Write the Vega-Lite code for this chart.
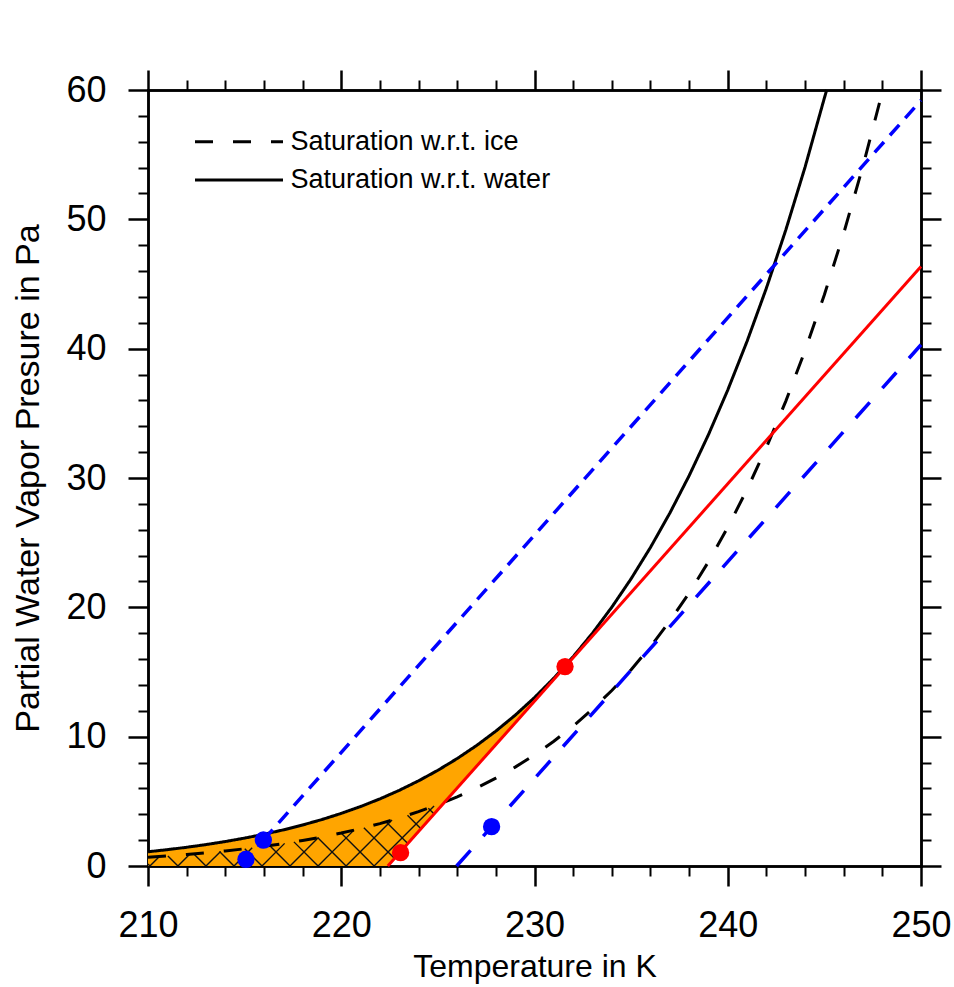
{
  "$schema": "https://vega.github.io/schema/vega-lite/v6.json",
  "width": 773,
  "height": 776,
  "autosize": {"type": "none"},
  "padding": {"left": 148, "top": 90, "right": 33, "bottom": 121},
  "background": "white",
  "config": {
    "view": {"stroke": null},
    "font": "Liberation Sans",
    "axis": {
      "grid": false,
      "domainColor": "black",
      "domainWidth": 2.5,
      "domainCap": "square",
      "tickColor": "black",
      "labelColor": "black",
      "titleColor": "black",
      "labelFont": "Liberation Sans",
      "titleFont": "Liberation Sans",
      "titleFontWeight": "normal",
      "labelFlush": false,
      "labelOverlap": false
    }
  },
  "resolve": {"axis": {"x": "independent", "y": "independent"}},
  "datasets": {
    "fill": [
      {"T": 210, "top": 1.100, "bottom": 0},
      {"T": 211, "top": 1.263, "bottom": 0},
      {"T": 212, "top": 1.447, "bottom": 0},
      {"T": 213, "top": 1.655, "bottom": 0},
      {"T": 214, "top": 1.891, "bottom": 0},
      {"T": 215, "top": 2.157, "bottom": 0},
      {"T": 216, "top": 2.456, "bottom": 0},
      {"T": 217, "top": 2.792, "bottom": 0},
      {"T": 218, "top": 3.170, "bottom": 0},
      {"T": 219, "top": 3.593, "bottom": 0},
      {"T": 220, "top": 4.067, "bottom": 0},
      {"T": 221, "top": 4.598, "bottom": 0},
      {"T": 222, "top": 5.189, "bottom": 0},
      {"T": 222.41, "top": 5.460, "bottom": 0},
      {"T": 223, "top": 5.849, "bottom": 0.991},
      {"T": 224, "top": 6.584, "bottom": 2.671},
      {"T": 225, "top": 7.401, "bottom": 4.351},
      {"T": 226, "top": 8.308, "bottom": 6.031},
      {"T": 227, "top": 9.314, "bottom": 7.711},
      {"T": 228, "top": 10.428, "bottom": 9.391},
      {"T": 229, "top": 11.660, "bottom": 11.071},
      {"T": 230, "top": 13.023, "bottom": 12.751},
      {"T": 231, "top": 14.526, "bottom": 14.431},
      {"T": 231.58, "top": 15.45, "bottom": 15.406}
    ],
    "hatch": [
      {"T1": 210.10, "e1": 0, "T2": 210.591, "e2": 0.733},
      {"T1": 211.55, "e1": 0, "T2": 212.158, "e2": 0.909},
      {"T1": 213.00, "e1": 0, "T2": 213.756, "e2": 1.129},
      {"T1": 214.45, "e1": 0, "T2": 215.390, "e2": 1.404},
      {"T1": 215.90, "e1": 0, "T2": 217.070, "e2": 1.749},
      {"T1": 217.35, "e1": 0, "T2": 218.819, "e2": 2.195},
      {"T1": 218.80, "e1": 0, "T2": 220.657, "e2": 2.774},
      {"T1": 220.25, "e1": 0, "T2": 222.626, "e2": 3.549},
      {"T1": 221.70, "e1": 0, "T2": 224.802, "e2": 4.635},
      {"T1": 210.10, "e1": 0, "T2": 210.000, "e2": 0.149},
      {"T1": 211.55, "e1": 0, "T2": 211.030, "e2": 0.777},
      {"T1": 213.00, "e1": 0, "T2": 212.373, "e2": 0.937},
      {"T1": 214.45, "e1": 0, "T2": 213.700, "e2": 1.121},
      {"T1": 215.90, "e1": 0, "T2": 215.008, "e2": 1.333},
      {"T1": 217.35, "e1": 0, "T2": 216.292, "e2": 1.581},
      {"T1": 218.80, "e1": 0, "T2": 217.552, "e2": 1.865},
      {"T1": 220.25, "e1": 0, "T2": 218.787, "e2": 2.186},
      {"T1": 221.70, "e1": 0, "T2": 219.995, "e2": 2.547},
      {"T1": 222.759, "e1": 0.585, "T2": 221.170, "e2": 2.958},
      {"T1": 223.441, "e1": 1.732, "T2": 222.315, "e2": 3.415},
      {"T1": 224.124, "e1": 2.878, "T2": 223.427, "e2": 3.919},
      {"T1": 224.806, "e1": 4.025, "T2": 224.506, "e2": 4.474}
    ],
    "sat": [
      {"curve": "Saturation w.r.t. water", "T": 210, "e": 1.100},
      {"curve": "Saturation w.r.t. water", "T": 211, "e": 1.263},
      {"curve": "Saturation w.r.t. water", "T": 212, "e": 1.447},
      {"curve": "Saturation w.r.t. water", "T": 213, "e": 1.655},
      {"curve": "Saturation w.r.t. water", "T": 214, "e": 1.891},
      {"curve": "Saturation w.r.t. water", "T": 215, "e": 2.157},
      {"curve": "Saturation w.r.t. water", "T": 216, "e": 2.456},
      {"curve": "Saturation w.r.t. water", "T": 217, "e": 2.792},
      {"curve": "Saturation w.r.t. water", "T": 218, "e": 3.170},
      {"curve": "Saturation w.r.t. water", "T": 219, "e": 3.593},
      {"curve": "Saturation w.r.t. water", "T": 220, "e": 4.067},
      {"curve": "Saturation w.r.t. water", "T": 221, "e": 4.598},
      {"curve": "Saturation w.r.t. water", "T": 222, "e": 5.189},
      {"curve": "Saturation w.r.t. water", "T": 223, "e": 5.849},
      {"curve": "Saturation w.r.t. water", "T": 224, "e": 6.584},
      {"curve": "Saturation w.r.t. water", "T": 225, "e": 7.401},
      {"curve": "Saturation w.r.t. water", "T": 226, "e": 8.308},
      {"curve": "Saturation w.r.t. water", "T": 227, "e": 9.314},
      {"curve": "Saturation w.r.t. water", "T": 228, "e": 10.428},
      {"curve": "Saturation w.r.t. water", "T": 229, "e": 11.660},
      {"curve": "Saturation w.r.t. water", "T": 230, "e": 13.023},
      {"curve": "Saturation w.r.t. water", "T": 231, "e": 14.526},
      {"curve": "Saturation w.r.t. water", "T": 232, "e": 16.183},
      {"curve": "Saturation w.r.t. water", "T": 233, "e": 18.006},
      {"curve": "Saturation w.r.t. water", "T": 234, "e": 20.012},
      {"curve": "Saturation w.r.t. water", "T": 235, "e": 22.213},
      {"curve": "Saturation w.r.t. water", "T": 236, "e": 24.629},
      {"curve": "Saturation w.r.t. water", "T": 237, "e": 27.278},
      {"curve": "Saturation w.r.t. water", "T": 238, "e": 30.171},
      {"curve": "Saturation w.r.t. water", "T": 239, "e": 33.344},
      {"curve": "Saturation w.r.t. water", "T": 240, "e": 36.800},
      {"curve": "Saturation w.r.t. water", "T": 241, "e": 40.572},
      {"curve": "Saturation w.r.t. water", "T": 242, "e": 44.683},
      {"curve": "Saturation w.r.t. water", "T": 243, "e": 49.160},
      {"curve": "Saturation w.r.t. water", "T": 244, "e": 54.034},
      {"curve": "Saturation w.r.t. water", "T": 245, "e": 59.379},
      {"curve": "Saturation w.r.t. water", "T": 245.12, "e": 60.0},
      {"curve": "Saturation w.r.t. ice", "T": 210, "e": 0.674},
      {"curve": "Saturation w.r.t. ice", "T": 211, "e": 0.774},
      {"curve": "Saturation w.r.t. ice", "T": 212, "e": 0.888},
      {"curve": "Saturation w.r.t. ice", "T": 213, "e": 1.018},
      {"curve": "Saturation w.r.t. ice", "T": 214, "e": 1.165},
      {"curve": "Saturation w.r.t. ice", "T": 215, "e": 1.331},
      {"curve": "Saturation w.r.t. ice", "T": 216, "e": 1.519},
      {"curve": "Saturation w.r.t. ice", "T": 217, "e": 1.732},
      {"curve": "Saturation w.r.t. ice", "T": 218, "e": 1.972},
      {"curve": "Saturation w.r.t. ice", "T": 219, "e": 2.244},
      {"curve": "Saturation w.r.t. ice", "T": 220, "e": 2.549},
      {"curve": "Saturation w.r.t. ice", "T": 221, "e": 2.892},
      {"curve": "Saturation w.r.t. ice", "T": 222, "e": 3.278},
      {"curve": "Saturation w.r.t. ice", "T": 223, "e": 3.712},
      {"curve": "Saturation w.r.t. ice", "T": 224, "e": 4.198},
      {"curve": "Saturation w.r.t. ice", "T": 225, "e": 4.743},
      {"curve": "Saturation w.r.t. ice", "T": 226, "e": 5.352},
      {"curve": "Saturation w.r.t. ice", "T": 227, "e": 6.034},
      {"curve": "Saturation w.r.t. ice", "T": 228, "e": 6.795},
      {"curve": "Saturation w.r.t. ice", "T": 229, "e": 7.645},
      {"curve": "Saturation w.r.t. ice", "T": 230, "e": 8.591},
      {"curve": "Saturation w.r.t. ice", "T": 231, "e": 9.646},
      {"curve": "Saturation w.r.t. ice", "T": 232, "e": 10.819},
      {"curve": "Saturation w.r.t. ice", "T": 233, "e": 12.123},
      {"curve": "Saturation w.r.t. ice", "T": 234, "e": 13.570},
      {"curve": "Saturation w.r.t. ice", "T": 235, "e": 15.177},
      {"curve": "Saturation w.r.t. ice", "T": 236, "e": 16.957},
      {"curve": "Saturation w.r.t. ice", "T": 237, "e": 18.928},
      {"curve": "Saturation w.r.t. ice", "T": 238, "e": 21.109},
      {"curve": "Saturation w.r.t. ice", "T": 239, "e": 23.519},
      {"curve": "Saturation w.r.t. ice", "T": 240, "e": 26.182},
      {"curve": "Saturation w.r.t. ice", "T": 241, "e": 29.120},
      {"curve": "Saturation w.r.t. ice", "T": 242, "e": 32.359},
      {"curve": "Saturation w.r.t. ice", "T": 243, "e": 35.928},
      {"curve": "Saturation w.r.t. ice", "T": 244, "e": 39.854},
      {"curve": "Saturation w.r.t. ice", "T": 245, "e": 44.174},
      {"curve": "Saturation w.r.t. ice", "T": 246, "e": 48.920},
      {"curve": "Saturation w.r.t. ice", "T": 247, "e": 54.132},
      {"curve": "Saturation w.r.t. ice", "T": 248, "e": 59.849},
      {"curve": "Saturation w.r.t. ice", "T": 248.03, "e": 60.0}
    ],
    "mix": [
      {"line": "red", "T": 222.41, "e": 0},
      {"line": "red", "T": 250, "e": 46.35},
      {"line": "blueUpper", "T": 215.97, "e": 2.01},
      {"line": "blueUpper", "T": 250, "e": 59.2},
      {"line": "blueLower", "T": 225.97, "e": 0},
      {"line": "blueLower", "T": 250, "e": 40.3}
    ],
    "dots": [
      {"group": "blue", "T": 215.07, "e": 0.52},
      {"group": "blue", "T": 215.97, "e": 2.01},
      {"group": "blue", "T": 227.78, "e": 3.04},
      {"group": "red", "T": 223.07, "e": 1.03},
      {"group": "red", "T": 231.58, "e": 15.42}
    ]
  },
  "layer": [
    {
      "data": {"name": "fill"},
      "mark": {"type": "area", "color": "#FFA500", "opacity": 1},
      "encoding": {
        "x": {
          "field": "T", "type": "quantitative",
          "scale": {"domain": [210, 250], "nice": false, "zero": false},
          "axis": {
            "orient": "bottom", "values": [210, 220, 230, 240, 250],
            "tickSize": 20, "tickWidth": 2.5, "labelFontSize": 36, "labelPadding": 22,
            "title": "Temperature in K", "titleFontSize": 32, "titlePadding": 8
          }
        },
        "y": {
          "field": "top", "type": "quantitative",
          "scale": {"domain": [0, 60], "nice": false, "zero": false},
          "axis": {
            "orient": "left", "values": [0, 10, 20, 30, 40, 50, 60],
            "tickSize": 20, "tickWidth": 2.5, "labelFontSize": 36, "labelPadding": 22,
            "title": "Partial Water Vapor Presure in Pa", "titleFontSize": 34, "titlePadding": 20
          }
        },
        "y2": {"field": "bottom"}
      }
    },
    {
      "data": {"name": "hatch"},
      "mark": {"type": "rule", "color": "#111111", "strokeWidth": 1.4},
      "encoding": {
        "x": {
          "field": "T1", "type": "quantitative",
          "scale": {"domain": [210, 250], "nice": false, "zero": false},
          "axis": {
            "orient": "bottom",
            "values": [212, 214, 216, 218, 222, 224, 226, 228, 232, 234, 236, 238, 242, 244, 246, 248],
            "tickSize": 10, "tickWidth": 2, "labels": false, "title": null
          }
        },
        "y": {
          "field": "e1", "type": "quantitative",
          "scale": {"domain": [0, 60], "nice": false, "zero": false},
          "axis": {
            "orient": "left",
            "values": [2, 4, 6, 8, 12, 14, 16, 18, 22, 24, 26, 28, 32, 34, 36, 38, 42, 44, 46, 48, 52, 54, 56, 58],
            "tickSize": 10, "tickWidth": 2, "labels": false, "title": null
          }
        },
        "x2": {"field": "T2"},
        "y2": {"field": "e2"}
      }
    },
    {
      "data": {"name": "sat"},
      "mark": {"type": "line", "color": "black", "strokeWidth": 3},
      "encoding": {
        "x": {
          "field": "T", "type": "quantitative",
          "scale": {"domain": [210, 250], "nice": false, "zero": false},
          "axis": {
            "orient": "top", "values": [210, 220, 230, 240, 250],
            "tickSize": 20, "tickWidth": 2.5, "labels": false, "title": null
          }
        },
        "y": {
          "field": "e", "type": "quantitative",
          "scale": {"domain": [0, 60], "nice": false, "zero": false},
          "axis": {
            "orient": "right", "values": [0, 10, 20, 30, 40, 50, 60],
            "tickSize": 20, "tickWidth": 2.5, "labels": false, "title": null
          }
        },
        "strokeDash": {
          "field": "curve", "type": "nominal",
          "scale": {
            "domain": ["Saturation w.r.t. ice", "Saturation w.r.t. water"],
            "range": [[18, 20], [1, 0]]
          },
          "legend": {
            "orient": "none", "legendX": 45.5, "legendY": 36.7,
            "title": null, "padding": 0,
            "symbolType": "stroke", "symbolSize": 7744, "symbolStrokeWidth": 3,
            "symbolStrokeColor": "black",
            "clipHeight": 30,
            "labelFontSize": 27, "labelFont": "Liberation Sans", "labelColor": "black",
            "labelLimit": 0, "labelOffset": 6, "rowPadding": 8.3
          }
        }
      }
    },
    {
      "data": {"name": "mix"},
      "transform": [{"filter": "datum.line === 'red'"}],
      "mark": {"type": "line", "color": "#FF0000", "strokeWidth": 3},
      "encoding": {
        "x": {
          "field": "T", "type": "quantitative",
          "scale": {"domain": [210, 250], "nice": false, "zero": false},
          "axis": {
            "orient": "top",
            "values": [212, 214, 216, 218, 222, 224, 226, 228, 232, 234, 236, 238, 242, 244, 246, 248],
            "tickSize": 10, "tickWidth": 2, "labels": false, "title": null
          }
        },
        "y": {
          "field": "e", "type": "quantitative",
          "scale": {"domain": [0, 60], "nice": false, "zero": false},
          "axis": {
            "orient": "right",
            "values": [2, 4, 6, 8, 12, 14, 16, 18, 22, 24, 26, 28, 32, 34, 36, 38, 42, 44, 46, 48, 52, 54, 56, 58],
            "tickSize": 10, "tickWidth": 2, "labels": false, "title": null
          }
        }
      }
    },
    {
      "data": {"name": "mix"},
      "transform": [{"filter": "datum.line === 'blueUpper'"}],
      "mark": {"type": "line", "color": "#0000FF", "strokeWidth": 3.5, "strokeDash": [14, 9]},
      "encoding": {
        "x": {"field": "T", "type": "quantitative", "scale": {"domain": [210, 250], "nice": false, "zero": false}, "axis": null},
        "y": {"field": "e", "type": "quantitative", "scale": {"domain": [0, 60], "nice": false, "zero": false}, "axis": null}
      }
    },
    {
      "data": {"name": "mix"},
      "transform": [{"filter": "datum.line === 'blueLower'"}],
      "mark": {"type": "line", "color": "#0000FF", "strokeWidth": 3.5, "strokeDash": [21, 19]},
      "encoding": {
        "x": {"field": "T", "type": "quantitative", "scale": {"domain": [210, 250], "nice": false, "zero": false}, "axis": null},
        "y": {"field": "e", "type": "quantitative", "scale": {"domain": [0, 60], "nice": false, "zero": false}, "axis": null}
      }
    },
    {
      "data": {"name": "dots"},
      "mark": {"type": "circle", "size": 300, "opacity": 1},
      "encoding": {
        "x": {"field": "T", "type": "quantitative", "scale": {"domain": [210, 250], "nice": false, "zero": false}, "axis": null},
        "y": {"field": "e", "type": "quantitative", "scale": {"domain": [0, 60], "nice": false, "zero": false}, "axis": null},
        "color": {
          "field": "group", "type": "nominal",
          "scale": {"domain": ["blue", "red"], "range": ["#0000FF", "#FF0000"]},
          "legend": null
        }
      }
    }
  ]
}
